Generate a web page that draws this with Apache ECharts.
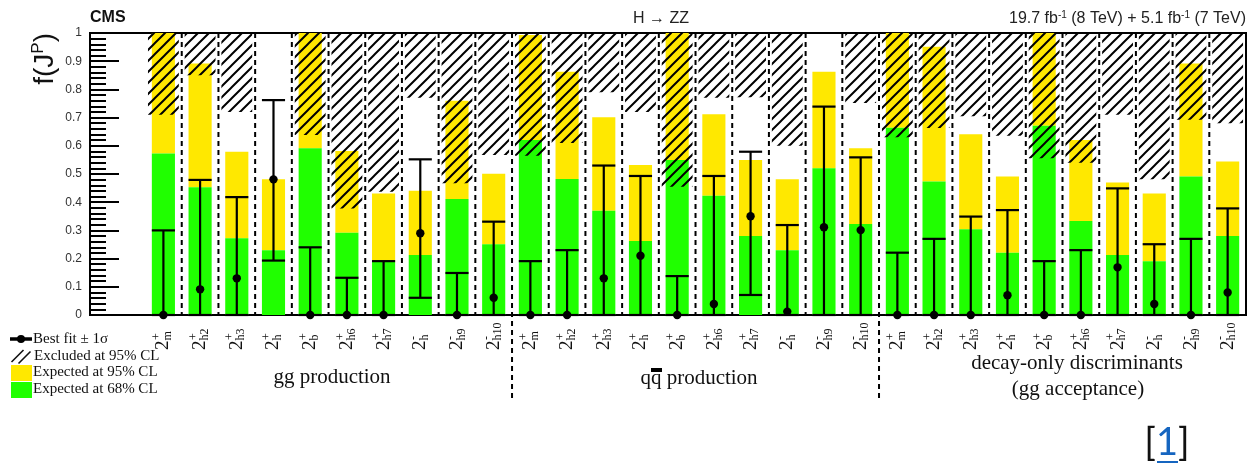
<!DOCTYPE html>
<html>
<head>
<meta charset="utf-8">
<script src="https://cdn.jsdelivr.net/npm/echarts@6/dist/echarts.min.js"></script>
<style>
  html, body { margin: 0; padding: 0; background: #fff; }
  #chart { width: 1248px; height: 465px; }
</style>
</head>
<body>
<div id="chart"></div>
<script>
// Spin-2 alternative models, repeated for each production / analysis mode
const modelSigns = ['+', '+', '+', '+', '+', '+', '+', '-', '-', '-'];
const modelSubs = ['m', 'h2', 'h3', 'h', 'b', 'h6', 'h7', 'h', 'h9', 'h10'];
const productionModes = ['gg', 'qqbar', 'decay'];

// Upper edge of the expected 68% CL band (green)
const expected68 = [
  0.573, 0.453, 0.272, 0.230, 0.591, 0.292, 0.189, 0.213, 0.411, 0.251,
  0.621, 0.482, 0.370, 0.262, 0.550, 0.423, 0.280, 0.230, 0.520, 0.323,
  0.664, 0.473, 0.304, 0.221, 0.671, 0.333, 0.213, 0.191, 0.491, 0.280
];
// Upper edge of the expected 95% CL band (yellow)
const expected95 = [
  1.000, 0.892, 0.579, 0.481, 1.000, 0.582, 0.431, 0.441, 0.760, 0.501,
  0.993, 0.863, 0.701, 0.532, 1.000, 0.712, 0.550, 0.481, 0.863, 0.591,
  1.000, 0.951, 0.641, 0.491, 1.000, 0.621, 0.470, 0.431, 0.892, 0.544
];
// Lower edge of the region excluded at 95% CL (null: nothing excluded)
const excludedFrom = [
  0.710, 0.850, 0.720, null, 0.638, 0.378, 0.437, 0.770, 0.467, 0.567,
  0.565, 0.610, 0.790, 0.720, 0.455, 0.770, 0.772, 0.600, null, 0.752,
  0.630, 0.663, 0.705, 0.636, 0.556, 0.540, 0.710, 0.481, 0.692, 0.680
];
// Best fit f(J^P) with its 1 sigma interval
const bestFit = [
  0.000, 0.091, 0.130, 0.481, 0.000, 0.000, 0.000, 0.290, 0.000, 0.061,
  0.000, 0.000, 0.130, 0.210, 0.000, 0.039, 0.350, 0.012, 0.311, 0.301,
  0.000, 0.000, 0.000, 0.070, 0.000, 0.000, 0.169, 0.039, 0.000, 0.080
];
const fitLow = [
  0.000, 0.000, 0.000, 0.193, 0.000, 0.000, 0.000, 0.061, 0.000, 0.000,
  0.000, 0.000, 0.000, 0.000, 0.000, 0.000, 0.071, 0.000, 0.000, 0.000,
  0.000, 0.000, 0.000, 0.000, 0.000, 0.000, 0.000, 0.000, 0.000, 0.000
];
const fitHigh = [
  0.300, 0.479, 0.418, 0.762, 0.240, 0.132, 0.191, 0.552, 0.149, 0.331,
  0.191, 0.230, 0.530, 0.493, 0.138, 0.493, 0.579, 0.319, 0.739, 0.559,
  0.221, 0.270, 0.349, 0.372, 0.191, 0.230, 0.449, 0.251, 0.270, 0.378
];

const FRACTION_MAX = 1;

// ---- build the category list ----
const categories = [];
productionModes.forEach(function (mode, g) {
  modelSigns.forEach(function (s, m) {
    categories.push({ mode: mode, group: g, sign: s, sub: modelSubs[m] });
  });
});
const nCat = categories.length;
const perGroup = modelSigns.length;

// ---- styling ----
const YELLOW = '#ffe800';
const GREEN = '#20ff00';
const BAR_W = 0.63;
const HATCH_W = 0.84;
const SERIF = '"Liberation Serif", "DejaVu Serif", serif';
const SANS = '"Liberation Sans", Arial, sans-serif';

function makeHatch() {
  const s = 11;
  const c = document.createElement('canvas');
  c.width = s; c.height = s;
  const ctx = c.getContext('2d');
  ctx.strokeStyle = '#000';
  ctx.lineWidth = 2;
  ctx.beginPath();
  ctx.moveTo(0, s); ctx.lineTo(s, 0);
  ctx.moveTo(-s / 2, s / 2); ctx.lineTo(s / 2, -s / 2);
  ctx.moveTo(s / 2, s * 1.5); ctx.lineTo(s * 1.5, s / 2);
  ctx.stroke();
  return c;
}
const hatchPattern = { image: makeHatch(), repeat: 'repeat' };

// ---- series data ----
const bandData = expected68.map(function (g, i) { return [i, g, expected95[i]]; });
const hatchData = [];
excludedFrom.forEach(function (e, i) { if (e !== null) hatchData.push([i, e, FRACTION_MAX]); });
const fitData = bestFit.map(function (b, i) { return [i, b, fitLow[i], fitHigh[i]]; });
const sepData = [];
for (let i = 0; i < nCat - 1; i++) {
  sepData.push([i + 0.5, (i + 1) % perGroup === 0 ? 1 : 0]);
}
const labelData = categories.map(function (c, i) { return [i, 0]; });

const chart = echarts.init(document.getElementById('chart'), null, { renderer: 'canvas' });

const option = {
  animation: false,
  backgroundColor: '#fff',
  grid: {
    left: 90, right: 2, top: 33, bottom: 150,
    show: true, borderColor: '#000', borderWidth: 2, backgroundColor: 'transparent'
  },
  xAxis: {
    type: 'value', min: -2, max: nCat - 0.5,
    axisLine: { show: true, onZero: false, lineStyle: { color: '#000', width: 2 } },
    axisTick: { show: false }, axisLabel: { show: false }, splitLine: { show: false }
  },
  yAxis: {
    type: 'value', min: 0, max: 1, interval: 0.1,
    axisLine: { show: true, onZero: false, lineStyle: { color: '#000', width: 2 } },
    axisTick: { show: true, inside: true, length: 29, lineStyle: { color: '#000', width: 2 } },
    minorTick: { show: true, splitNumber: 5, length: 16, lineStyle: { color: '#000', width: 2 } },
    axisLabel: {
      color: '#333', fontSize: 12, fontFamily: SANS, margin: 8,
      formatter: function (v) { return String(Math.round(v * 10) / 10); }
    },
    splitLine: { show: false }
  },
  series: [
    {
      // expected bands
      type: 'custom', z: 2, data: bandData, encode: { x: 0, y: 1 },
      renderItem: function (params, api) {
        const i = api.value(0);
        const w = api.size([BAR_W, 0])[0];
        const p0 = api.coord([i, 0]);
        const pg = api.coord([i, api.value(1)]);
        const py = api.coord([i, api.value(2)]);
        return {
          type: 'group', children: [
            { type: 'rect', shape: { x: p0[0] - w / 2, y: py[1], width: w, height: pg[1] - py[1] }, style: { fill: YELLOW } },
            { type: 'rect', shape: { x: p0[0] - w / 2, y: pg[1], width: w, height: p0[1] - pg[1] }, style: { fill: GREEN } }
          ]
        };
      }
    },
    {
      // excluded region
      type: 'custom', z: 3, data: hatchData, encode: { x: 0, y: 1 },
      renderItem: function (params, api) {
        const i = api.value(0);
        const w = api.size([HATCH_W, 0])[0];
        const lo = api.coord([i, api.value(1)]);
        const hi = api.coord([i, api.value(2)]);
        return {
          type: 'rect',
          shape: { x: lo[0] - w / 2, y: hi[1], width: w, height: lo[1] - hi[1] },
          style: { fill: hatchPattern }
        };
      }
    },
    {
      // separators between models and between production modes
      type: 'custom', z: 4, data: sepData, encode: { x: 0 }, clip: false,
      renderItem: function (params, api) {
        const x = api.value(0);
        const top = api.coord([x, 1]);
        const bot = api.coord([x, 0]);
        const ext = api.value(1) ? 85 : 0;
        return {
          type: 'line',
          shape: { x1: top[0], y1: top[1], x2: bot[0], y2: bot[1] + ext },
          style: { stroke: '#000', lineWidth: 2, lineDash: [5, 4] }
        };
      }
    },
    {
      // best fit and 1 sigma interval
      type: 'custom', z: 5, data: fitData, encode: { x: 0, y: 1 }, clip: false,
      renderItem: function (params, api) {
        const i = api.value(0);
        const w = api.size([BAR_W, 0])[0];
        const pb = api.coord([i, api.value(1)]);
        const pl = api.coord([i, api.value(2)]);
        const ph = api.coord([i, api.value(3)]);
        const st = { stroke: '#000', lineWidth: 2.2 };
        return {
          type: 'group', children: [
            { type: 'line', shape: { x1: pl[0], y1: pl[1], x2: ph[0], y2: ph[1] }, style: st },
            { type: 'line', shape: { x1: ph[0] - w / 2, y1: ph[1], x2: ph[0] + w / 2, y2: ph[1] }, style: st },
            { type: 'line', shape: { x1: pl[0] - w / 2, y1: pl[1], x2: pl[0] + w / 2, y2: pl[1] }, style: st },
            { type: 'circle', shape: { cx: pb[0], cy: pb[1], r: 4.2 }, style: { fill: '#000' } }
          ]
        };
      }
    },
    {
      // model labels under the axis
      type: 'custom', z: 5, data: labelData, encode: { x: 0 }, clip: false, silent: true,
      renderItem: function (params, api) {
        const i = api.value(0);
        const c = categories[params.dataIndex];
        const p = api.coord([i, 0]);
        return {
          type: 'group', x: p[0], y: p[1] + 35, rotation: Math.PI / 2,
          children: [
            { type: 'text', x: 0, y: 0, style: { text: '2', font: '19px ' + SERIF, fill: '#111', align: 'left', verticalAlign: 'middle' } },
            { type: 'text', x: 10, y: -6.5, style: { text: c.sign, font: '12px ' + SERIF, fill: '#111', align: 'left', verticalAlign: 'middle' } },
            { type: 'text', x: 9.5, y: 4.5, style: { text: c.sub, font: '12px ' + SERIF, fill: '#111', align: 'left', verticalAlign: 'middle' } }
          ]
        };
      }
    }
  ],
  graphic: [
    { type: 'text', left: 90, top: 10, style: { text: 'CMS', font: 'bold 16px ' + SANS, fill: '#111' } },
    { type: 'text', x: 661, y: 19, style: { text: 'H \u2192 ZZ', font: '16px ' + SANS, fill: '#222', align: 'center', verticalAlign: 'middle' } },
    {
      type: 'text', x: 1246, y: 19,
      style: {
        text: '{a|19.7 fb}{s|-1}{a| (8 TeV) + 5.1 fb}{s|-1}{a| (7 TeV)}',
        align: 'right', verticalAlign: 'middle', fill: '#222',
        rich: {
          a: { fontSize: 16, fontFamily: SANS, fill: '#222', lineHeight: 18 },
          s: { fontSize: 10, fontFamily: SANS, fill: '#222', verticalAlign: 'top' }
        }
      }
    },
    {
      type: 'text', x: 45, y: 33, rotation: Math.PI / 2,
      style: {
        text: '{a|f(J}{s|P}{a|)}',
        align: 'right', verticalAlign: 'middle',
        rich: {
          a: { fontSize: 28, fontFamily: SANS, fill: '#111', lineHeight: 30 },
          s: { fontSize: 17, fontFamily: SANS, fill: '#111', verticalAlign: 'top' }
        }
      }
    },
    // group titles
    { type: 'text', x: 332, y: 377, style: { text: 'gg production', font: '21px ' + SERIF, fill: '#111', align: 'center', verticalAlign: 'middle' } },
    { type: 'text', x: 699, y: 378, style: { text: 'qq production', font: '21px ' + SERIF, fill: '#111', align: 'center', verticalAlign: 'middle' } },
    { type: 'rect', shape: { x: 651, y: 368, width: 11, height: 4 }, style: { fill: '#000' } },
    { type: 'text', x: 1077, y: 363, style: { text: 'decay-only discriminants', font: '21px ' + SERIF, fill: '#111', align: 'center', verticalAlign: 'middle' } },
    { type: 'text', x: 1078, y: 389, style: { text: '(gg acceptance)', font: '21px ' + SERIF, fill: '#111', align: 'center', verticalAlign: 'middle' } },
    // legend
    { type: 'line', shape: { x1: 10, y1: 339, x2: 32, y2: 339 }, style: { stroke: '#000', lineWidth: 3.5 } },
    { type: 'circle', shape: { cx: 21, cy: 339, r: 4 }, style: { fill: '#000' } },
    { type: 'text', x: 33, y: 339, style: { text: 'Best fit \u00b1 1\u03c3', font: '15px ' + SERIF, fill: '#111', verticalAlign: 'middle' } },
    { type: 'line', shape: { x1: 11.5, y1: 362, x2: 23.5, y2: 350 }, style: { stroke: '#111', lineWidth: 1.6 } },
    { type: 'line', shape: { x1: 18.5, y1: 363.5, x2: 30.5, y2: 351.5 }, style: { stroke: '#111', lineWidth: 1.6 } },
    { type: 'text', x: 34, y: 356, style: { text: 'Excluded at 95% CL', font: '15px ' + SERIF, fill: '#111', verticalAlign: 'middle' } },
    { type: 'rect', shape: { x: 11, y: 365, width: 21, height: 16 }, style: { fill: YELLOW } },
    { type: 'text', x: 33, y: 372, style: { text: 'Expected at 95% CL', font: '15px ' + SERIF, fill: '#111', verticalAlign: 'middle' } },
    { type: 'rect', shape: { x: 11, y: 382, width: 21, height: 16 }, style: { fill: GREEN } },
    { type: 'text', x: 33, y: 389, style: { text: 'Expected at 68% CL', font: '15px ' + SERIF, fill: '#111', verticalAlign: 'middle' } },
    // reference marker
    {
      type: 'text', x: 1167, y: 443,
      style: {
        text: '{b|[}{l|1}{b|]}', align: 'center', verticalAlign: 'middle',
        rich: {
          b: { fontSize: 38, fontFamily: 'Lato, "Open Sans", sans-serif', fill: '#111' },
          l: { fontSize: 38, fontFamily: 'Lato, "Open Sans", sans-serif', fill: '#1565c0' }
        }
      }
    },
    { type: 'rect', shape: { x: 1157, y: 461, width: 21, height: 2 }, style: { fill: '#1565c0' } }
  ]
};

chart.setOption(option);
</script>
</body>
</html>
